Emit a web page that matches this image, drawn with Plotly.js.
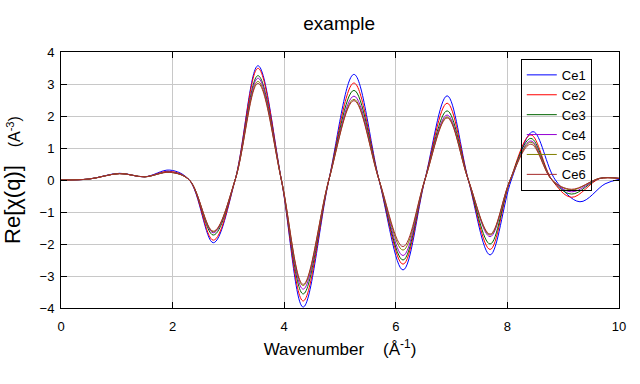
<!DOCTYPE html>
<html>
<head>
<meta charset="utf-8">
<script src="https://cdn.plot.ly/plotly-3.0.1.min.js"></script>
<style>html,body{margin:0;padding:0;background:#fff}#chart{width:640px;height:384px}</style>
</head>
<body>
<div id="chart"></div>
<script>
// Wavenumber positions (Å^-1) read at extrema and zero crossings
const kCommon = [0, 0.5, 1.05, 1.5, 1.95, 2.3, 2.73, 3.12, 3.53, 3.95, 4.34, 4.8, 5.25, 5.7, 6.13, 6.52, 6.92, 7.3, 7.69, 8.05, 8.42, 8.8, 9.15, 9.65, 10];
const kCe1    = [0, 0.5, 1.05, 1.5, 1.95, 2.3, 2.73, 3.12, 3.53, 3.95, 4.34, 4.8, 5.25, 5.7, 6.13, 6.52, 6.92, 7.3, 7.69, 8.07, 8.46, 8.86, 9.3, 9.75, 10];

const ce1 = [0, 0.03, 0.21, 0.10, 0.31, 0, -1.96, 0, 3.57, 0, -3.97, 0, 3.30, 0, -2.81, 0, 2.63, 0, -2.34, 0, 1.51, 0, -0.68, -0.12, 0.02];
const ce2 = [0, 0.03, 0.20, 0.10, 0.27, 0, -1.88, 0, 3.49, 0, -3.78, 0, 3.03, 0, -2.63, 0, 2.40, 0, -2.17, 0, 1.41, 0, -0.54, 0.04, 0.05];
const ce3 = [0, 0.03, 0.20, 0.10, 0.25, 0, -1.72, 0, 3.26, 0, -3.56, 0, 2.80, 0, -2.50, 0, 2.16, 0, -2.00, 0, 1.30, 0, -0.44, 0.05, 0.05];
const ce4 = [0, 0.03, 0.20, 0.10, 0.25, 0, -1.65, 0, 3.18, 0, -3.41, 0, 2.62, 0, -2.36, 0, 2.03, 0, -1.77, 0, 1.22, 0, -0.37, 0.05, 0.05];
const ce5 = [0, 0.03, 0.20, 0.10, 0.24, 0, -1.62, 0, 3.08, 0, -3.30, 0, 2.52, 0, -2.19, 0, 1.97, 0, -1.72, 0, 1.18, 0, -0.31, 0.05, 0.05];
const ce6 = [0, 0.03, 0.20, 0.10, 0.24, 0, -1.60, 0, 3.02, 0, -3.26, 0, 2.48, 0, -2.08, 0, 1.94, 0, -1.69, 0, 1.12, 0, -0.29, 0.05, 0.05];

const names  = ["Ce1", "Ce2", "Ce3", "Ce4", "Ce5", "Ce6"];
const colors = ["#0000ff", "#ff0000", "#006400", "#9400d3", "#808000", "#a52a2a"];
const xs = [kCe1, kCommon, kCommon, kCommon, kCommon, kCommon];
const ys = [ce1, ce2, ce3, ce4, ce5, ce6];

const traces = names.map((n, i) => ({
  x: xs[i], y: ys[i], name: n, type: "scatter", mode: "lines",
  line: {color: colors[i], width: 1, shape: "spline", smoothing: 1}
}));

const FONT = "Arial, 'Liberation Sans', sans-serif";
const axisCommon = {
  showline: true, linecolor: "#000", linewidth: 1, mirror: "ticks",
  ticks: "inside", ticklen: 6, tickcolor: "#000",
  showgrid: true, gridcolor: "#c8c8c8", gridwidth: 1, zeroline: false,
  tickfont: {family: FONT, size: 13, color: "#000"}
};

const layout = {
  width: 640, height: 384,
  margin: {l: 61, r: 21, t: 52, b: 76},
  paper_bgcolor: "#fff", plot_bgcolor: "#fff",
  font: {family: FONT, color: "#000"},
  title: {text: "example", font: {family: FONT, size: 19, color: "#000"}, x: 0.53, xanchor: "center", y: 0.94, yanchor: "middle"},
  xaxis: Object.assign({}, axisCommon, {
    range: [0, 10], dtick: 2, tick0: 0, ticklabelstandoff: 6,
    title: {text: "Wavenumber    (Å<sup>-1</sup>)", font: {family: FONT, size: 17, color: "#000"}, standoff: 10}
  }),
  yaxis: Object.assign({}, axisCommon, {
    range: [-4, 4], dtick: 1, ticklabelstandoff: 3,
    title: {text: "<span style='font-size:22px'>Re[χ(q)]</span>    (A<sup>-3</sup>)", font: {family: FONT, size: 16, color: "#000"}, standoff: 14}
  }),
  showlegend: true,
  legend: {
    x: 0.824, xanchor: "left", y: 0.973, yanchor: "top",
    bgcolor: "rgba(0,0,0,0)", bordercolor: "#000", borderwidth: 1,
    font: {family: FONT, size: 13, color: "#000"},
    itemwidth: 30, tracegroupgap: 0
  }
};

Plotly.newPlot("chart", traces, layout, {displayModeBar: false, staticPlot: true});
</script>
</body>
</html>
